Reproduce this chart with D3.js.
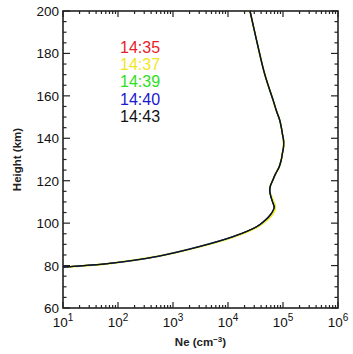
<!DOCTYPE html>
<html><head><meta charset="utf-8">
<script src="https://d3js.org/d3.v7.min.js"></script>
<style>body{margin:0;background:#fff}svg{display:block}text{font-family:"Liberation Sans",Arial,sans-serif}</style>
</head><body><svg id="c" width="353" height="354"></svg>
<script>
const times = ["14:35","14:37","14:39","14:40","14:43"];
const colors = ["#e8202a","#f2e61e","#2ee020","#1a18d0","#111111"];
// profile: height (km) vs log10 Ne
const heights = [79.3, 81, 84.5, 89, 93.6, 98.3, 101, 103, 105, 107.5, 110, 112.5, 115, 117.5, 120, 123, 126.5, 130, 133, 136, 139, 142, 145, 148.6, 153, 158, 170, 185, 200];
const logNeBase = [1.0, 1.85, 2.75, 3.49, 4.09, 4.52, 4.66, 4.74, 4.80, 4.84, 4.81, 4.78, 4.76, 4.77, 4.81, 4.86, 4.93, 4.97, 4.99, 5.01, 5.01, 4.99, 4.97, 4.94, 4.88, 4.82, 4.67, 4.53, 4.40];
const logNeYellow = [1.0, 1.85, 2.75, 3.50, 4.11, 4.54, 4.69, 4.77, 4.83, 4.86, 4.83, 4.79, 4.76, 4.77, 4.81, 4.86, 4.93, 4.97, 4.99, 5.01, 5.01, 4.99, 4.97, 4.94, 4.88, 4.82, 4.67, 4.53, 4.40];
const series = [logNeBase, logNeYellow, logNeBase, logNeBase, logNeBase];
const xTicks = [1,2,3,4,5,6];
const yTicks = [60,80,100,120,140,160,180,200];

const svg = d3.select("#c");
const L=63, R=338, T=11, B=308;
const x = d3.scaleLog().domain([10,1e6]).range([L,R]);
const y = d3.scaleLinear().domain([60,200]).range([B,T]);

// curves
const line = d3.line().x(d=>x(Math.pow(10,d[0]))).y(d=>y(d[1])).curve(d3.curveCatmullRom.alpha(0.5));
series.forEach((s,i)=>{
  const pts = s.map((v,j)=>[v,heights[j]]);
  svg.append("path").attr("d",line(pts)).attr("fill","none").attr("stroke",colors[i])
    .attr("stroke-width", i===1?2:(i===4?1.2:1.3));
});

// frame
svg.append("rect").attr("x",L).attr("y",T).attr("width",R-L).attr("height",B-T)
  .attr("fill","none").attr("stroke","#222").attr("stroke-width",1.6);

const g = svg.append("g").attr("stroke","#222");
for (let e=1;e<=6;e++){
  for (let m=1;m<=9;m++){
    if (e===6 && m>1) break;
    const v = m*Math.pow(10,e);
    const px = x(v);
    const len = m===1?6:3;
    g.append("line").attr("x1",px).attr("x2",px).attr("y1",B).attr("y2",B-len).attr("stroke-width",1.2);
    g.append("line").attr("x1",px).attr("x2",px).attr("y1",T).attr("y2",T+len).attr("stroke-width",1.2);
  }
}
for (let v=60; v<=200; v+=5){
  const py = y(v);
  const len = v%20===0?7:3.5;
  g.append("line").attr("x1",L).attr("x2",L+len).attr("y1",py).attr("y2",py).attr("stroke-width",1.2);
  g.append("line").attr("x1",R).attr("x2",R-len).attr("y1",py).attr("y2",py).attr("stroke-width",1.2);
}
yTicks.forEach(v=>{
  svg.append("text").attr("x",L-4).attr("y",y(v)+5).attr("text-anchor","end")
    .attr("font-size",13.5).attr("fill","#111").text(v);
});
xTicks.forEach(e=>{
  const t = svg.append("text").attr("x",x(Math.pow(10,e))).attr("y",B+19).attr("text-anchor","middle")
    .attr("font-size",13.5).attr("fill","#111");
  t.append("tspan").text("10");
  t.append("tspan").attr("dy",-6).attr("font-size",10).text(e);
});
svg.append("text").attr("transform",`translate(21,${(T+B)/2}) rotate(-90)`).attr("text-anchor","middle")
  .attr("font-size",11.5).attr("font-weight","bold").attr("fill","#222").text("Height (km)");
const xt = svg.append("text").attr("x",(L+R)/2).attr("y",346).attr("text-anchor","middle")
  .attr("font-size",11.5).attr("font-weight","bold").attr("fill","#222");
xt.append("tspan").text("Ne (cm");
xt.append("tspan").attr("dy",-4).attr("font-size",8).text("−3");
xt.append("tspan").attr("dy",4).text(")");

times.forEach((t,i)=>{
  svg.append("text").attr("x",120).attr("y",53+i*17.2).attr("font-size",16).attr("fill",colors[i]).text(t);
});
</script></body></html>
